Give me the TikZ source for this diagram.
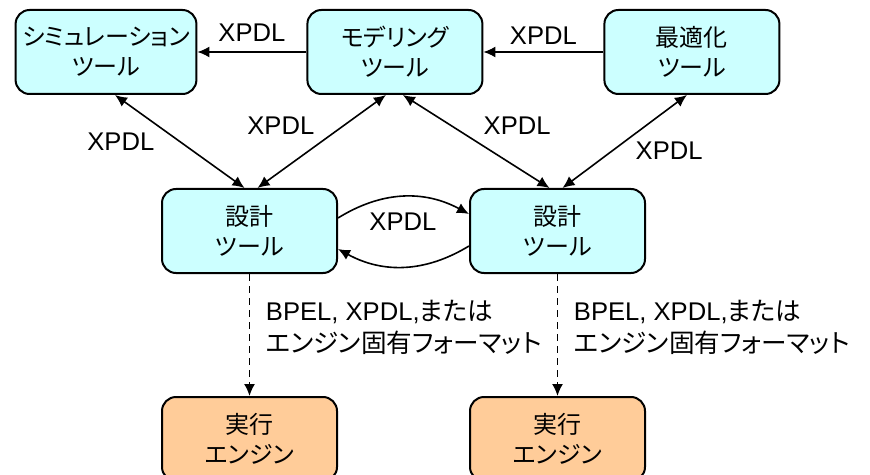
\documentclass[tikz,border=0pt]{standalone}
\usepackage{fontspec}
\setmainfont{Liberation Sans}
\newfontfamily\jp{Noto Sans CJK JP}[RawFeature=+palt]
\usetikzlibrary{positioning,arrows.meta}
\definecolor{toolcyan}{HTML}{CCFFFF}
\definecolor{enginetan}{HTML}{FFCC99}

\begin{document}
\begin{tikzpicture}[
    font=\fontsize{12.8}{16}\selectfont,
    tool/.style={draw, line width=1pt, rounded corners=7pt, fill=toolcyan,
      minimum width=87.5pt, minimum height=42pt, align=center,
      font=\jp\fontsize{12}{15}\selectfont},
    engine/.style={tool, fill=enginetan},
    flow/.style={line width=0.8pt, -{Latex[length=6pt,width=5.5pt]}},
    both/.style={line width=0.8pt, {Latex[length=6pt,width=5.5pt]}-{Latex[length=6pt,width=5.5pt]}},
    feed/.style={flow, dash pattern=on 3.5pt off 2.5pt}
  ]
    \useasboundingbox (0,0) rectangle (435pt,-237.5pt);
    \node[tool] (sim) at (53pt,-26pt) {シミュレーション\\ツール};
    \node[tool] (mod) [right=54.5pt of sim] {モデリング\\ツール};
    \node[tool] (opt) [right=60pt of mod] {最適化\\ツール};
    \node[tool] (d1) [below=46.5pt of sim, xshift=71.75pt] {設計\\ツール};
    \node[tool] (d2) [right=65.5pt of d1] {設計\\ツール};
    \node[engine] (e1) [below=61pt of d1] {実行\\エンジン};
    \node[engine] (e2) [below=61pt of d2] {実行\\エンジン};

    \draw[flow] (mod) -- node[above=1.75pt] {XPDL} (sim);
    \draw[flow] (opt) -- node[above] {XPDL} (mod);
    \draw[both] ([xshift=4.5pt]sim.south) -- node[left=9pt] {XPDL} ([xshift=-2.5pt]d1.north);
    \draw[both] ([xshift=-4.5pt]mod.south) -- node[above left] {XPDL} ([xshift=4pt]d1.north);
    \draw[both] ([xshift=4pt]mod.south) -- node[above right] {XPDL} ([xshift=-4pt]d2.north);
    \draw[both] ([xshift=-2.5pt]opt.south) -- node[pos=0.6, right=8pt] {XPDL} ([xshift=2.5pt]d2.north);

    \draw[flow] ([yshift=6.5pt]d1.east) to[bend left=30] node[below=4.4pt] {XPDL} ([yshift=8.5pt]d2.west);
    \draw[flow] ([yshift=-7.5pt]d2.west) to[bend left=30] ([yshift=-9pt]d1.east);

    \draw[feed] (d1) -- node[right=4.5pt, yshift=3.75pt, align=left]
      {BPEL, XPDL,{\jp または}\\{\jp エンジン固有フォーマット}} (e1);
    \draw[feed] (d2) -- node[right=4.5pt, yshift=3.75pt, align=left]
      {BPEL, XPDL,{\jp または}\\{\jp エンジン固有フォーマット}} (e2);
\end{tikzpicture}
\end{document}
